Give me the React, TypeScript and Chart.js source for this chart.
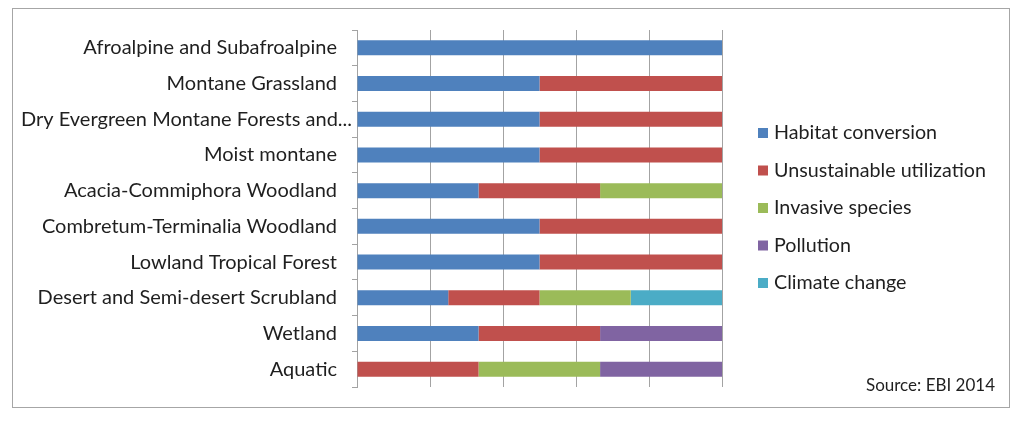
import React, { useEffect, useRef } from "react";
import { Chart, registerables } from "chart.js";

Chart.register(...registerables);

const categories = [
  "Afroalpine and Subafroalpine",
  "Montane Grassland",
  "Dry Evergreen Montane Forests and...",
  "Moist montane",
  "Acacia-Commiphora Woodland",
  "Combretum-Terminalia Woodland",
  "Lowland Tropical Forest",
  "Desert and Semi-desert Scrubland",
  "Wetland",
  "Aquatic",
];

const seriesNames = [
  "Habitat conversion",
  "Unsustainable utilization",
  "Invasive species",
  "Pollution",
  "Climate change",
];

const habitatConversion = [100, 50, 50, 50, 33.3, 50, 50, 25, 33.3, 0];
const unsustainableUtilization = [0, 50, 50, 50, 33.3, 50, 50, 25, 33.3, 33.3];
const invasiveSpecies = [0, 0, 0, 0, 33.4, 0, 0, 25, 0, 33.3];
const pollution = [0, 0, 0, 0, 0, 0, 0, 0, 33.4, 33.4];
const climateChange = [0, 0, 0, 0, 0, 0, 0, 25, 0, 0];

const seriesValues = [
  habitatConversion,
  unsustainableUtilization,
  invasiveSpecies,
  pollution,
  climateChange,
];

const seriesColors = ["#4F81BD", "#C0504D", "#9BBB59", "#8064A2", "#4BACC6"];

const sourceNote = "Source: EBI 2014";

const FONT = "Lato, 'Open Sans', sans-serif";
const TEXT_COLOR = "#1f1f1f";
const GRID_COLOR = "#a3a3a3";

export default function App() {
  const ref = useRef<HTMLCanvasElement>(null);

  useEffect(() => {
    const canvas = ref.current;
    if (!canvas) return;

    const framePlugin = {
      id: "frameLegendSource",
      beforeDraw(chart: any) {
        const c = chart.ctx;
        c.save();
        c.fillStyle = "#ffffff";
        c.fillRect(0, 0, chart.width, chart.height);
        c.restore();
      },
      afterDraw(chart: any) {
        const c = chart.ctx;
        c.save();
        c.strokeStyle = "#a6a6a6";
        c.lineWidth = 1;
        c.strokeRect(12.5, 8.5, 997, 399);

        c.font = `19.7px ${FONT}`;
        c.textBaseline = "middle";
        c.textAlign = "left";
        chart.data.datasets.forEach((ds: any, i: number) => {
          const y = 133 + i * 37.5;
          c.fillStyle = ds.backgroundColor;
          c.fillRect(758, y - 5, 10, 10);
          c.fillStyle = TEXT_COLOR;
          c.fillText(ds.label, 774, y);
        });

        c.font = `17px ${FONT}`;
        c.textAlign = "right";
        c.fillStyle = TEXT_COLOR;
        c.fillText(sourceNote, 995, 386);
        c.restore();
      },
    };

    const chart = new Chart(canvas, {
      type: "bar",
      data: {
        labels: categories,
        datasets: seriesNames.map((name, i) => ({
          label: name,
          data: seriesValues[i],
          backgroundColor: seriesColors[i],
          borderWidth: 0,
          barPercentage: 0.42,
          categoryPercentage: 1,
        })),
      },
      options: {
        indexAxis: "y",
        animation: false,
        responsive: false,
        maintainAspectRatio: false,
        layout: { padding: { left: 0, right: 302, top: 30, bottom: 34 } },
        plugins: {
          legend: { display: false },
          tooltip: { enabled: false },
        },
        scales: {
          x: {
            stacked: true,
            min: 0,
            max: 100,
            ticks: { display: false, stepSize: 20 },
            grid: { color: GRID_COLOR, drawTicks: false },
            border: { display: false },
            afterFit: (s: any) => {
              s.height = 0;
            },
          },
          y: {
            stacked: true,
            grid: {
              drawOnChartArea: false,
              drawTicks: true,
              tickLength: 5,
              color: GRID_COLOR,
              offset: true,
            },
            border: { display: true, color: GRID_COLOR },
            ticks: {
              padding: 0,
              autoSkip: false,
              color: TEXT_COLOR,
              font: { family: FONT, size: 20 },
              callback: (_v: any, i: number) =>
                categories[i].endsWith("...") ? categories[i] : categories[i] + "\u2002\u2005",
            },
            afterFit: (s: any) => {
              s.width = 357;
            },
          },
        },
      },
      plugins: [framePlugin],
    } as any);

    return () => chart.destroy();
  }, []);

  return (
    <div style={{ position: "absolute", left: 0, top: 0, width: 1024, height: 421, background: "#fff" }}>
      <canvas ref={ref} width={1024} height={421} style={{ display: "block", width: 1024, height: 421 }} />
    </div>
  );
}
